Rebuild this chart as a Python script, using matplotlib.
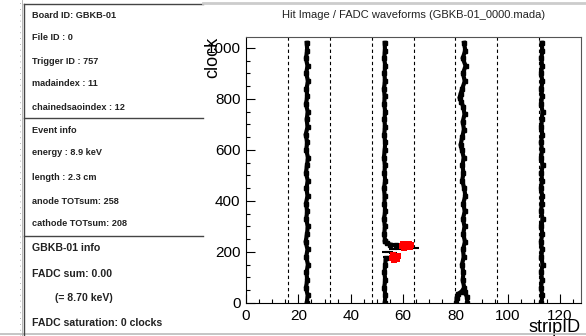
import matplotlib
matplotlib.use("Agg")
import matplotlib.pyplot as plt
from matplotlib.lines import Line2D
import numpy as np

plt.rcParams['font.family'] = ['Liberation Sans', 'DejaVu Sans']

# ---- data ----
title = "Hit Image / FADC waveforms (GBKB-01_0000.mada)"
board_lines = ["Board ID: GBKB-01", "File ID : 0", "Trigger ID : 757",
               "madaindex : 11", "chainedsaoindex : 12"]
event_lines = ["Event info", "energy : 8.9 keV", "length : 2.3 cm",
               "anode TOTsum: 258", "cathode TOTsum: 208"]
fadc_lines = ["GBKB-01 info", "FADC sum: 0.00", "(= 8.70 keV)",
              "FADC saturation: 0 clocks"]

chip_bounds = [16, 32, 48, 64, 80, 96, 112]

track1_clock = [0, 30, 60, 90, 120, 150, 180, 210, 240, 270, 300, 330, 360, 390,
                420, 450, 480, 510, 540, 570, 600, 630, 660, 690, 720, 750, 780,
                810, 840, 870, 900, 930, 960, 990, 1020]
track1_strip = [23.2, 23.6, 22.9, 23.4, 23.1, 23.7, 23.0, 23.5, 22.8, 23.3, 23.6,
                23.0, 23.4, 22.9, 23.5, 23.1, 23.6, 22.9, 23.3, 23.7, 23.0, 23.4,
                22.8, 23.5, 23.2, 23.6, 22.9, 23.4, 23.1, 23.7, 23.0, 23.5, 22.9,
                23.4, 23.2]

track2a_clock = [242, 270, 300, 330, 360, 390, 420, 450, 480, 510, 540, 570, 600,
                 630, 660, 690, 720, 750, 780, 810, 840, 870, 900, 930, 960, 990,
                 1020]
track2a_strip = [53.2, 52.8, 53.1, 52.7, 53.2, 52.9, 53.0, 52.7, 53.2, 52.9, 53.1,
                 52.7, 53.0, 53.2, 52.8, 53.1, 52.9, 53.2, 52.8, 53.0, 52.7, 53.1,
                 52.9, 53.2, 52.8, 53.1, 53.0]
track2b_clock = [0, 30, 60, 90, 120, 150, 175]
track2b_strip = [53.0, 53.3, 52.8, 53.2, 52.9, 53.2, 53.4]
bend_clock = [242, 234, 229, 226, 224]
bend_strip = [53.2, 53.8, 55.2, 57.2, 59.0]
bits_clock = [213, 212, 214, 201, 199, 197, 181, 179]
bits_strip = [56.0, 58.5, 64.5, 53.4, 54.8, 56.2, 53.8, 55.4]

track3_clock = [0, 20, 35, 45, 60, 90, 120, 150, 180, 210, 240, 270, 300, 330, 360,
                390, 420, 450, 480, 510, 540, 570, 600, 620, 650, 680, 710, 740,
                770, 790, 805, 820, 840, 870, 900, 930, 960, 990, 1020]
track3_strip = [80.4, 80.5, 80.9, 82.4, 83.4, 82.8, 83.1, 82.5, 83.2, 82.9, 83.7,
                83.0, 83.5, 82.9, 83.6, 83.0, 83.8, 83.4, 82.6, 83.1, 82.7, 83.2,
                82.5, 82.0, 82.6, 83.3, 82.8, 83.5, 83.0, 82.2, 81.6, 82.0, 82.6,
                83.6, 82.9, 83.9, 82.8, 83.8, 83.3]
stub3_clock = [0, 25, 42]
stub3_strip = [84.6, 84.4, 83.6]

track4_clock = [0, 30, 60, 90, 120, 150, 180, 210, 240, 270, 300, 330, 360, 390,
                420, 450, 480, 510, 540, 570, 600, 630, 660, 690, 720, 750, 780,
                810, 840, 870, 900, 930, 960, 990, 1020]
track4_strip = [112.9, 113.2, 112.7, 113.1, 112.8, 113.3, 112.9, 113.1, 112.7,
                113.2, 112.9, 113.3, 112.8, 113.0, 113.2, 112.7, 113.1, 112.9,
                113.3, 112.8, 113.1, 112.7, 113.2, 112.9, 113.0, 113.3, 112.8,
                113.1, 112.9, 113.2, 112.8, 113.1, 112.9, 113.2, 113.0]

red_clock = [232, 228, 225, 220, 216, 222, 230, 218, 226, 190, 184, 178, 172, 168,
             186, 176]
red_strip = [59.8, 60.8, 61.8, 62.8, 60.2, 59.6, 62.2, 61.4, 63.0, 56.2, 57.2,
             56.0, 57.6, 56.6, 58.0, 55.6]

W, H = 586, 336
fig = plt.figure(figsize=(W / 100, H / 100), dpi=100)
ax = fig.add_axes([246 / W, 1 - 303 / H, (581 - 246) / W, (303 - 37) / H])

for b in chip_bounds:
    ax.axvline(b, color="black", lw=0.8, ls=(0, (3, 2.5)), zorder=1)

trk = dict(color="black", lw=3.0, marker="s", ms=2.2, zorder=3,
           solid_joinstyle="miter")
ax.plot(track1_strip, track1_clock, **trk)
ax.plot(track2a_strip, track2a_clock, **trk)
ax.plot(track2b_strip, track2b_clock, **trk)
ax.plot(bend_strip, bend_clock, **trk)
ax.plot(track3_strip, track3_clock, **trk)
ax.plot(stub3_strip, stub3_clock, **trk)
ax.plot(track4_strip, track4_clock, **trk)
ax.scatter(bits_strip, bits_clock, marker="_", s=30, color="black", lw=1.5, zorder=3)
ax.scatter(red_strip, red_clock, marker="s", s=22, color="#ff0000", lw=0, zorder=4)

ax.set_xlim(0, 128)
ax.set_ylim(0, 1043)
ax.set_xticks(np.arange(0, 121, 20))
ax.set_xticks(np.arange(0, 128, 5), minor=True)
ax.set_yticks(np.arange(0, 1001, 200))
ax.set_yticks(np.arange(0, 1043, 50), minor=True)
ax.tick_params(which="both", direction="in", top=False, right=False,
               labelsize=11, width=0.8)
ax.tick_params(which="major", length=6.5, pad=4)
ax.tick_params(which="minor", length=3.2)
for s in ax.spines.values():
    s.set_linewidth(0.8)
ax.spines["right"].set_color("#555555")
ax.spines["top"].set_color("#555555")

ax.set_ylabel("clock", fontsize=13, loc="top")
ax.yaxis.set_label_coords(-0.075, 1.0)
ax.set_xlabel("stripID", fontsize=13, loc="right")
ax.xaxis.set_label_coords(1.0, -0.06)
ax.set_title(title, fontsize=8, color="#222222", pad=14)

# ---- left info panel ----
def fy(y):
    return 1 - y / H

for xs, ys, c, lw in [((24, 203), (4, 4), "#444444", 1.0),
                      ((203, 586), (3, 3), "#cccccc", 2.0),
                      ((24, 203), (118, 118), "#444444", 1.0),
                      ((24, 203), (236, 236), "#444444", 1.0),
                      ((0, 586), (334, 334), "#bbbbbb", 1.2),
                      ((24, 24), (4, 336), "#444444", 1.0),
                      ((22, 22), (0, 336), "#aaaaaa", 0.6)]:
    fig.add_artist(Line2D([xs[0] / W, xs[1] / W], [fy(ys[0]), fy(ys[1])],
                          color=c, lw=lw))
fig.add_artist(Line2D([19.5 / W, 19.5 / W], [0, 1], color="#999999", lw=0.6,
                      ls=(0, (1, 6))))

small_y = [15, 37, 61, 84, 107, 131, 153, 177, 202, 224]
for txt, y in zip(board_lines + event_lines, small_y):
    fig.text(32 / W, fy(y), txt, fontsize=6.6, fontweight="bold",
             color="#222222", va="center", ha="left")
big_y = [248, 274, 298, 323]
big_x = [32, 32, 55, 32]
for txt, x, y in zip(fadc_lines, big_x, big_y):
    fig.text(x / W, fy(y), txt, fontsize=7.6, fontweight="bold",
             color="#222222", va="center", ha="left")

fig.savefig("out.png", dpi=100)
